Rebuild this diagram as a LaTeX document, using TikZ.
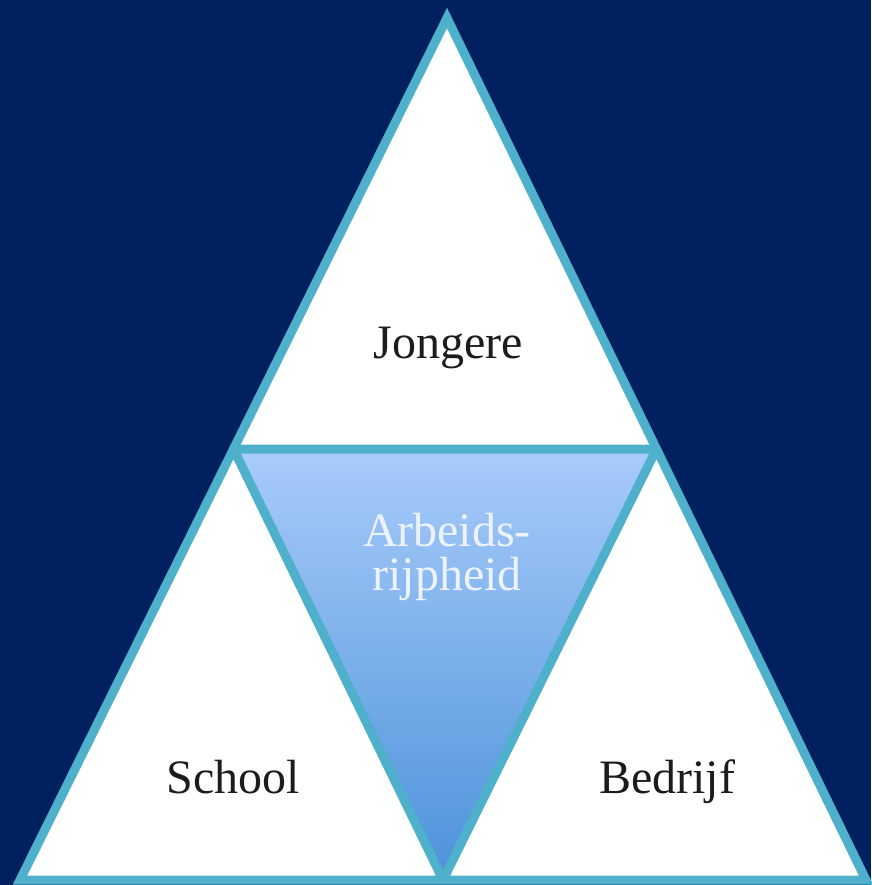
\documentclass[tikz,border=0pt]{standalone}
\usepackage{fontspec}
\setmainfont{Liberation Serif}
\usepackage{tikz}
\definecolor{navy}{RGB}{0,32,96}
\definecolor{rand}{RGB}{78,176,202}
\definecolor{lichtblauw}{RGB}{168,203,250}
\definecolor{donkerblauw}{RGB}{76,146,218}
\definecolor{tekst}{RGB}{28,28,28}
\definecolor{wittekst}{RGB}{236,243,252}

\begin{document}
\begin{tikzpicture}[%show background rectangle,
        x=1pt, y=-1pt,
        vlak/.style={draw=rand, line width=9pt},
        label/.style={anchor=base, text=tekst, font=\fontsize{48}{50}\selectfont},
        ]
            % Achtergrond
            \fill[navy] (0,0) rectangle (871,885);
            \useasboundingbox (0,0) rectangle (871,885);

            % Hoekpunten
            \coordinate (top)    at (447,18);
            \coordinate (links)  at (20,880);
            \coordinate (rechts) at (866,880);
            \coordinate (ml)     at (233.5,449);
            \coordinate (mr)     at (656.5,449);
            \coordinate (mb)     at (443,880);

            % Vlakken
            \fill[white] (top) -- (links) -- (rechts) -- cycle;
            \shade[top color=lichtblauw, bottom color=donkerblauw]
                    (ml) -- (mr) -- (mb) -- cycle;

            % Randen
            \draw[vlak] (top) -- (ml) -- (mr) -- cycle
                        (ml) -- (links) -- (mb) -- cycle
                        (mr) -- (mb) -- (rechts) -- cycle;

            % Teksten
            \node[label] (jongere) at (448,358) {Jongere};
            \node[label] (school)  at (233,793) {School};
            \node[label] (bedrijf) at (667,793) {Bedrijf};
            \node[label, text=wittekst, align=center,
                  font=\fontsize{48}{44}\selectfont] (arbeid) at (447,590)
                  {Arbeids-\\rijpheid};

        \end{tikzpicture}
\end{document}
